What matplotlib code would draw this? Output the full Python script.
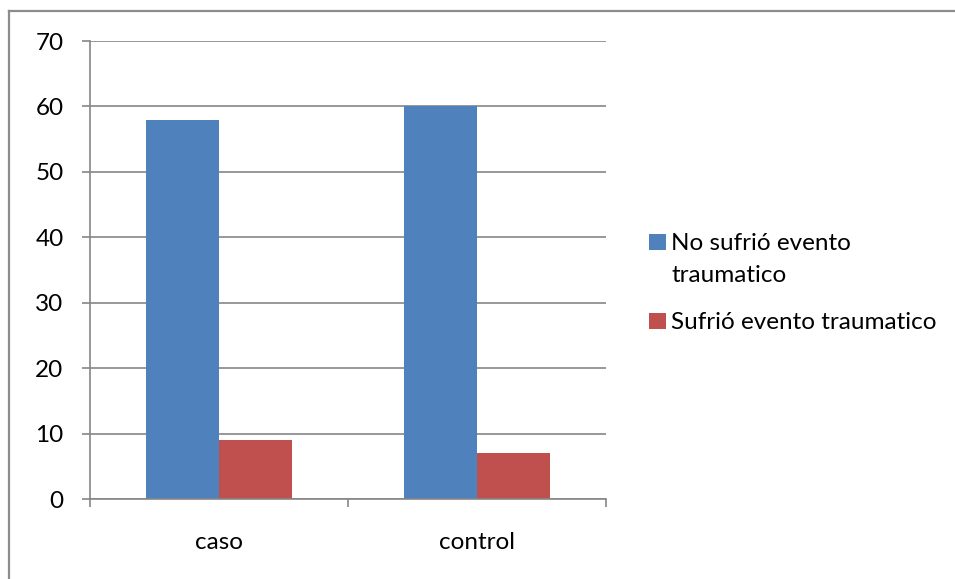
import matplotlib.pyplot as plt
import matplotlib.lines as mlines
import matplotlib.patches as mpatches
import numpy as np

plt.rcParams['font.family'] = ['Lato', 'DejaVu Sans']

categories = ['caso', 'control']
no_sufrio = [58, 60]
sufrio = [9, 7]
series_labels = ['No sufrió evento\ntraumatico', 'Sufrió evento traumatico']
y_ticks = [0, 10, 20, 30, 40, 50, 60, 70]

blue = '#4F81BD'
red = '#C0504D'
grid_gray = '#868686'
fs = 17.5

W, H = 955, 579
fig = plt.figure(figsize=(W / 100, H / 100), dpi=100)
ax = fig.add_axes([90 / W, 1 - 499 / H, 516 / W, 458 / H])

x = np.arange(len(categories))
w = 0.283
ax.bar(x - w / 2, no_sufrio, w, color=blue)
ax.bar(x + w / 2, sufrio, w, color=red)

ax.set_xlim(-0.5, len(categories) - 0.5)
ax.set_ylim(0, 70)
ax.set_yticks(y_ticks)
ax.yaxis.grid(True, color=grid_gray, linewidth=1.2)
ax.set_axisbelow(True)

# category boundaries get the tick marks, labels sit in between
ax.set_xticks(np.arange(len(categories) + 1) - 0.5)
ax.set_xticklabels([])
ax.set_xticks(x, minor=True)
ax.set_xticklabels(categories, minor=True)
ax.tick_params(axis='x', which='major', length=6, width=1.2, color=grid_gray, direction='out')
ax.tick_params(axis='x', which='minor', length=0, pad=24, labelsize=fs)
ax.tick_params(axis='y', length=6, width=1.2, color=grid_gray, direction='out', pad=13, labelsize=fs)

for side in ['top', 'right']:
    ax.spines[side].set_visible(False)
for side in ['left', 'bottom']:
    ax.spines[side].set_color(grid_gray)
    ax.spines[side].set_linewidth(1.2)

# legend: square swatch next to the first line of each label
legend_rows = [(blue, 250), (red, 329)]
line_step = 32
for (color, baseline), label in zip(legend_rows, series_labels):
    fig.add_artist(mpatches.Rectangle((649 / W, 1 - baseline / H), 17 / W, 16 / H,
                                      transform=fig.transFigure, color=color, linewidth=0))
    for i, line in enumerate(label.split('\n')):
        fig.text(671 / W, 1 - (baseline + i * line_step) / H, line, fontsize=fs,
                 va='baseline', ha='left', color='black')

# chart area frame
frame = dict(color='#8C8C8C', linewidth=1.6, transform=fig.transFigure)
fig.add_artist(mlines.Line2D([8.5 / W, 8.5 / W], [0, 1 - 11 / H], **frame))
fig.add_artist(mlines.Line2D([8.5 / W, 1], [1 - 11 / H, 1 - 11 / H], **frame))

fig.savefig('out.png', dpi=100)
